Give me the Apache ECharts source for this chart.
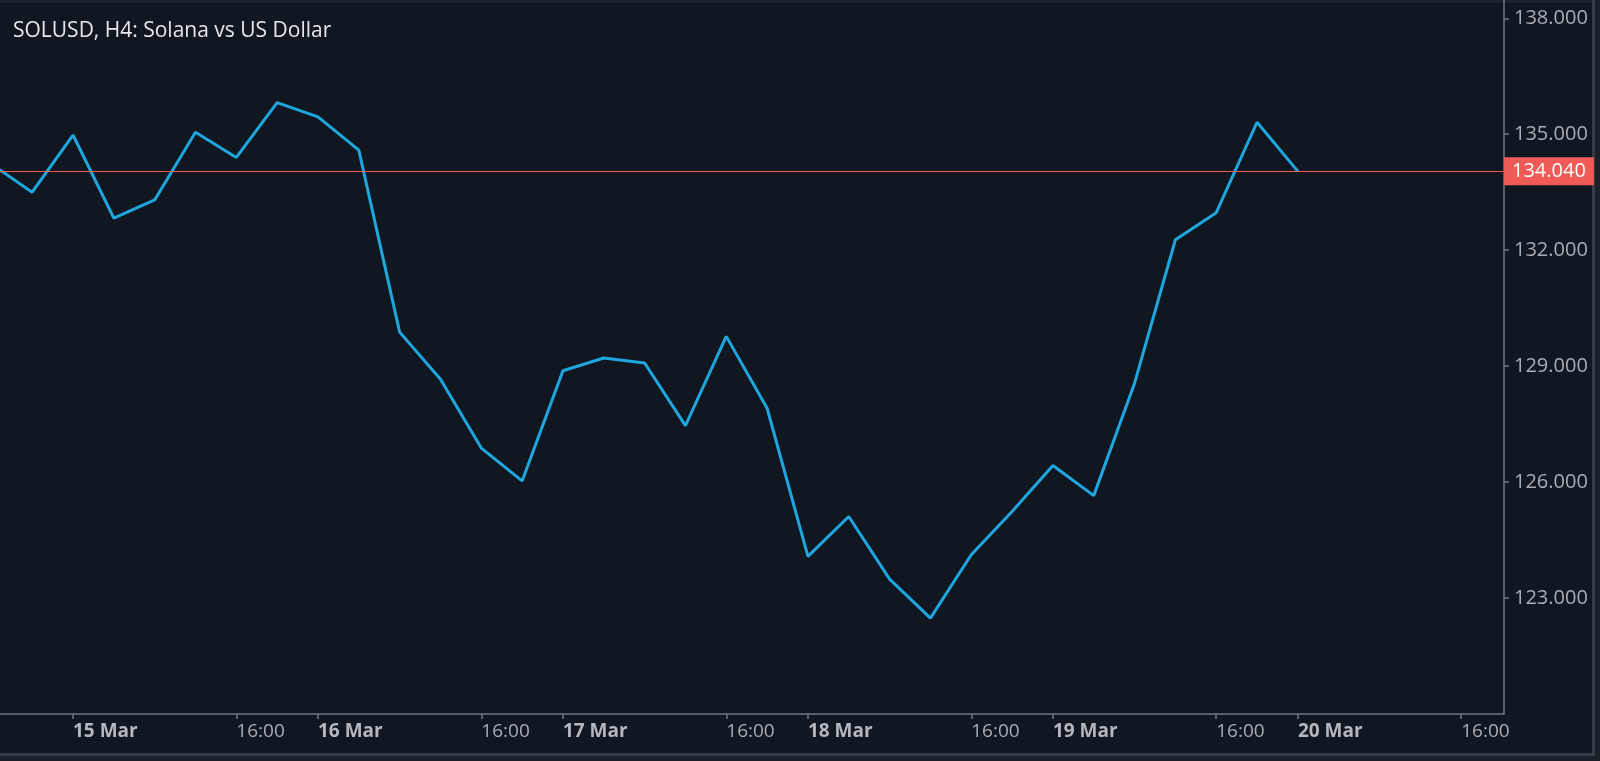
<!DOCTYPE html>
<html>
<head>
<meta charset="utf-8">
<title>SOLUSD H4</title>
<script src="https://cdn.jsdelivr.net/npm/echarts@6/dist/echarts.min.js"></script>
<style>
  html, body { margin: 0; padding: 0; background: #1a1f28; }
  #chart { width: 1600px; height: 761px; }
</style>
</head>
<body>
<div id="chart"></div>
<script>
// 4-hour closes; first value is bar -2 (14 Mar 16:00), bar 0 = 15 Mar 00:00
var firstBar = -2;
var prices = [
  134.23, 133.50,
  134.98, 132.83, 133.30, 135.05, 134.40, 135.82,
  135.45, 134.59, 129.88, 128.66, 126.88, 126.03,
  128.88, 129.21, 129.08, 127.46, 129.77, 127.91,
  124.08, 125.11, 123.49, 122.48, 124.12, 125.24,
  126.43, 125.65, 128.56, 132.27, 132.97, 135.31,
  134.04
];
var lastPrice = 134.04;

// x ticks (bar index) with their labels
var tickBars = [0, 4, 6, 10, 12, 16, 18, 22, 24, 28, 30, 34];
var tickLabels = ['15 Mar', '16:00', '16 Mar', '16:00', '17 Mar', '16:00',
                  '18 Mar', '16:00', '19 Mar', '16:00', '20 Mar', '16:00'];
var priceTicks = [123, 126, 129, 132, 135, 138];

var seriesData = prices.map(function (p, k) { return [firstBar + k, p]; });

var myChart = echarts.init(document.getElementById('chart'));
var axisColor = '#6f7480';
var labelColor = '#a9acb5';
var font = '"Open Sans", "DejaVu Sans", sans-serif';

var option = {
  backgroundColor: '#111720',
  animation: false,
  title: {
    text: 'SOLUSD, H4: Solana vs US Dollar',
    left: 8,
    top: 16,
    textStyle: { color: '#e6e7ea', fontSize: 21, fontWeight: 'normal', fontFamily: font }
  },
  grid: { left: 0, right: 96, top: 0, bottom: 47 },
  xAxis: {
    type: 'value',
    min: -1.788,
    max: 35.048,
    splitLine: { show: false },
    axisLine: { onZero: false, lineStyle: { color: axisColor, width: 1.5 } },
    axisTick: { customValues: tickBars, length: 5, lineStyle: { color: axisColor, width: 1.5 } },
    axisLabel: {
      customValues: tickBars,
      align: 'left',
      margin: 8,
      fontFamily: font,
      formatter: function (v) {
        var lab = tickLabels[tickBars.indexOf(v)];
        return lab.indexOf(':') >= 0 ? '{t|' + lab + '}' : '{d|' + lab + '}';
      },
      rich: {
        t: { color: labelColor, fontSize: 19, fontFamily: font },
        d: { color: '#b4b7bf', fontSize: 19, fontWeight: 'bold', fontFamily: font }
      }
    }
  },
  yAxis: {
    type: 'value',
    position: 'right',
    min: 120,
    max: 138.473,
    splitLine: { show: false },
    axisLine: { show: true, onZero: false, lineStyle: { color: axisColor, width: 1.5 } },
    axisTick: { show: true, customValues: priceTicks, length: 5, lineStyle: { color: axisColor, width: 1.5 } },
    axisLabel: {
      customValues: priceTicks,
      margin: 10,
      color: labelColor,
      fontSize: 20,
      fontFamily: font,
      formatter: function (v) { return v.toFixed(3); }
    }
  },
  series: [{
    type: 'line',
    data: seriesData,
    showSymbol: false,
    symbol: 'none',
    lineStyle: { color: '#1ea6df', width: 3 },
    markLine: {
      silent: true,
      symbol: 'none',
      lineStyle: { color: '#f05a57', width: 1.2, type: 'solid' },
      label: {
        position: 'end',
        distance: 0,
        formatter: lastPrice.toFixed(3),
        color: '#ffffff',
        fontSize: 20,
        fontFamily: font,
        backgroundColor: '#f05a57',
        padding: [4, 8, 4, 8]
      },
      data: [{ yAxis: lastPrice }]
    }
  }],
  graphic: [
    { type: 'rect', shape: { x: 0, y: 0, width: 1600, height: 3 }, style: { fill: '#1c222c' } },
    { type: 'rect', shape: { x: 1592, y: 0, width: 8, height: 761 }, style: { fill: '#1a1f28' } },
    { type: 'rect', shape: { x: 1592, y: 0, width: 3, height: 756 }, style: { fill: '#343c48' } },
    { type: 'rect', shape: { x: 0, y: 753, width: 1600, height: 8 }, style: { fill: '#1a1f28' } },
    { type: 'rect', shape: { x: 0, y: 753, width: 1595, height: 3 }, style: { fill: '#343c48' } }
  ]
};

myChart.setOption(option);
</script>
</body>
</html>
